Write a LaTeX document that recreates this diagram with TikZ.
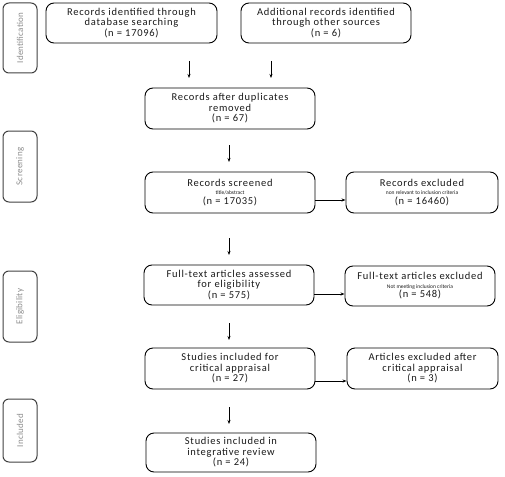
\documentclass[tikz,border=0pt]{standalone}
\usepackage{fontspec}
\setmainfont{Carlito}
\usetikzlibrary{arrows.meta}
\newcommand{\smalltxt}[1]{{\fontsize{5.5}{6}\selectfont\addfontfeatures{LetterSpace=0}#1}}
\begin{document}
\begin{tikzpicture}[x=1pt,y=-1pt,
  box/.style={draw=black,line width=0.9pt,rounded corners=8pt,align=center,inner sep=0pt,font=\fontsize{10.5}{10.5}\selectfont\addfontfeatures{LetterSpace=7},text=black!90},
  side/.style={draw=black!75,line width=1pt,rounded corners=6pt,inner sep=0pt},
  sidetext/.style={rotate=90,text=black!45,font=\fontsize{9}{10}\selectfont\addfontfeatures{LetterSpace=3}},
  arr/.style={-{Stealth[length=4pt,width=3pt]},line width=0.8pt}]
\useasboundingbox (0,0) rectangle (505,476);
% side labels
\node[side,minimum width=34pt,minimum height=70pt] (s1) at (20,38) {};
\node[sidetext] (t1) at (s1) {Identification};
\node[side,minimum width=34pt,minimum height=71pt] (s2) at (20,166.5) {};
\node[sidetext] (t2) at (s2) {Screening};
\node[side,minimum width=34pt,minimum height=71pt] (s3) at (20,306.5) {};
\node[sidetext] (t3) at (s3) {Eligibility};
\node[side,minimum width=34pt,minimum height=63pt] (s4) at (20,430.5) {};
\node[sidetext] (t4) at (s4) {Included};
% main boxes
\node[box,minimum width=171pt,minimum height=40pt] (b1) at (131.5,23) {Records identified through\\database searching\\(n = 17096)};
\node[box,minimum width=170pt,minimum height=40pt] (b2) at (326,23) {Additional records identified\\through other sources\\(n = 6)};
\node[box,minimum width=170pt,minimum height=41pt] (b3) at (230,108.5) {Records after duplicates\\removed\\(n = 67)};
\node[box,minimum width=170pt,minimum height=41pt] (b4) at (230,192.5) {Records screened\\[-2pt]\smalltxt{title/abstract}\\[-1pt](n = 17035)};
\node[box,minimum width=152pt,minimum height=41pt] (b5) at (422,192.5) {Records excluded\\[-2pt]\smalltxt{non relevant to inclusion criteria}\\[-1pt](n = 16460)};
\node[box,minimum width=170pt,minimum height=40pt] (b6) at (229,285) {Full-text articles assessed\\for eligibility\\(n = 575)};
\node[box,minimum width=150pt,minimum height=40pt] (b7) at (420,286) {Full-text articles excluded\\[-2pt]\smalltxt{Not meeting inclusion criteria}\\[-1pt](n = 548)};
\node[box,minimum width=170pt,minimum height=41pt] (b8) at (230,368.5) {Studies included for\\critical appraisal\\(n = 27)};
\node[box,minimum width=151pt,minimum height=41pt] (b9) at (422.5,368.5) {Articles excluded after\\critical appraisal\\(n = 3)};
\node[box,minimum width=170pt,minimum height=39pt] (b10) at (231,452.5) {Studies included in\\integrative review\\(n = 24)};
% arrows
\coordinate (a1s) at (189,61); \coordinate (a1e) at (189,78);
\coordinate (a2s) at (271,61); \coordinate (a2e) at (271,78);
\draw[arr] (a1s) -- (a1e);
\draw[arr] (a2s) -- (a2e);
\coordinate (a3s) at (229,145); \coordinate (a3e) at (229,162);
\draw[arr] (a3s) -- (a3e);
\coordinate (a4s) at (229,238); \coordinate (a4e) at (229,255);
\draw[arr] (a4s) -- (a4e);
\coordinate (a5s) at (229,323); \coordinate (a5e) at (229,340);
\draw[arr] (a5s) -- (a5e);
\coordinate (a6s) at (229,407); \coordinate (a6e) at (229,424);
\draw[arr] (a6s) -- (a6e);
\draw[arr] (b4.east |- 0,200) -- (b5.west |- 0,200);
\draw[arr] (b6.east |- 0,294) -- (b7.west |- 0,294);
\draw[arr] (b8.east |- 0,381) -- (b9.west |- 0,381);
\end{tikzpicture}
\end{document}
